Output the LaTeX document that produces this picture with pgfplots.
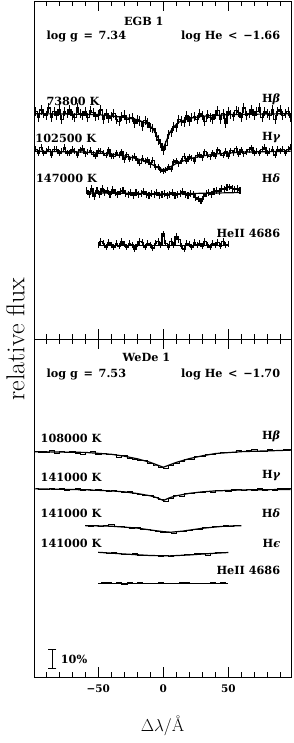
\documentclass[border=0pt]{standalone}
\usepackage{fontspec}
\usepackage{pgfplots}
\pgfplotsset{compat=1.18}
\newfontfamily\labfont{DejaVu Serif}
\pgfplotsset{
  panel/.style={
    width=257bp, height=338bp, scale only axis,
    xmin=-99.5, xmax=98.2, ymin=0, ymax=1.8,
    xtick={-50,0,50}, minor xtick={-90,-80,-70,-60,-40,-30,-20,-10,10,20,30,40,60,70,80,90},
    ytick=\empty, minor ytick={0.1,0.2,0.3,0.4,0.5,0.6,0.7,0.8,0.9,1.0,1.1,1.2,1.3,1.4,1.5,1.6,1.7},
    tick align=inside, xtick pos=both, ytick pos=both, xticklabel pos=lower,
    major tick length=10bp, minor tick length=5bp,
    axis line style={line width=0.9bp},
    every tick/.style={black, line width=0.8bp},
    clip=false,
  },
  obs/.style={black, line width=1.3bp, const plot mark mid, mark=none,
    error bars/.cd, y dir=both, y fixed=#1, error mark=none,
    error bar style={line width=1.1bp}},
  obsb/.style={black, line width=0.8bp, const plot mark mid, mark=none},
  model/.style={black, line width=1.2bp, mark=none},
}
\tikzset{lab/.style={font=\labfont\bfseries\fontsize{11.3}{13}\selectfont, inner sep=0pt}}
\newcommand\gr[1]{{\itshape #1}}
\begin{document}
\begin{tikzpicture}
\useasboundingbox (-34bp,-66bp) rectangle (260bp,677bp);
% ---------------- top panel: EGB 1
\begin{axis}[panel, at={(0,338bp)}, anchor=south west, xticklabels={}]
\addplot[obs=0.025] coordinates {(-98,1.21)(-96,1.18)(-94,1.22)(-92,1.20)(-90,1.19)(-88,1.23)(-86,1.18)(-84,1.21)(-82,1.19)(-80,1.22)(-78,1.17)(-76,1.21)(-74,1.20)(-72,1.22)(-70,1.19)(-68,1.18)(-66,1.23)(-64,1.20)(-62,1.19)(-60,1.21)(-58,1.178)(-56,1.217)(-54,1.205)(-52,1.184)(-50,1.192)(-48,1.22)(-46,1.169)(-44,1.198)(-42,1.176)(-40,1.185)(-38,1.202)(-36,1.17)(-34,1.16)(-32,1.185)(-30,1.192)(-28,1.17)(-26,1.175)(-24,1.18)(-22,1.15)(-20,1.17)(-18,1.16)(-16,1.135)(-14,1.165)(-12,1.15)(-10,1.125)(-8,1.12)(-6,1.10)(-4,1.06)(-2,1.04)(0,1.005)(2,1.03)(4,1.09)(6,1.10)(8,1.13)(10,1.125)(12,1.17)(14,1.16)(16,1.155)(18,1.19)(20,1.16)(22,1.178)(24,1.185)(26,1.17)(28,1.20)(30,1.19)(32,1.16)(34,1.197)(36,1.18)(38,1.172)(40,1.195)(42,1.216)(44,1.168)(46,1.199)(48,1.15)(50,1.212)(52,1.194)(54,1.185)(56,1.217)(58,1.208)(60,1.18)(62,1.23)(64,1.19)(66,1.20)(68,1.22)(70,1.19)(72,1.21)(74,1.23)(76,1.18)(78,1.21)(80,1.20)(82,1.19)(84,1.22)(86,1.17)(88,1.21)(90,1.22)(92,1.19)(94,1.20)(96,1.21)(98,1.18)};
\addplot[model] coordinates {(-99,1.200)(-50,1.195)(-30,1.18)(-20,1.168)(-12,1.145)(-8,1.12)(-4,1.07)(-1,1.02)(0,1.015)(2,1.05)(5,1.10)(8,1.13)(12,1.155)(20,1.175)(30,1.186)(50,1.195)(98,1.200)};
\addplot[obs=0.016] coordinates {(-98,1.01)(-96,0.99)(-94,1.02)(-92,0.99)(-90,1.00)(-88,1.01)(-86,0.98)(-84,1.01)(-82,1.01)(-80,0.99)(-78,1.00)(-76,1.02)(-74,0.99)(-72,0.99)(-70,1.01)(-68,0.999)(-66,0.978)(-64,1.007)(-62,1.016)(-60,0.986)(-58,0.995)(-56,1.004)(-54,0.983)(-52,0.972)(-50,1.002)(-48,1.00)(-46,0.989)(-44,0.978)(-42,1.006)(-40,0.975)(-38,0.973)(-36,0.991)(-34,0.979)(-32,0.997)(-30,0.955)(-28,0.982)(-26,0.959)(-24,0.966)(-22,0.973)(-20,0.95)(-18,0.936)(-16,0.962)(-14,0.948)(-12,0.953)(-10,0.928)(-8,0.952)(-6,0.915)(-4,0.918)(-2,0.90)(0,0.895)(2,0.90)(4,0.918)(6,0.905)(8,0.942)(10,0.948)(12,0.933)(14,0.948)(16,0.972)(18,0.946)(20,0.97)(22,0.963)(24,0.946)(26,0.979)(28,0.982)(30,0.965)(32,0.997)(34,0.979)(36,0.971)(38,0.993)(40,0.975)(42,1.006)(44,0.988)(46,0.979)(48,1.00)(50,0.972)(52,1.002)(54,0.993)(56,1.014)(58,0.985)(60,1.006)(62,0.986)(64,0.997)(66,1.008)(68,1.019)(70,0.99)(72,1.00)(74,0.99)(76,1.01)(78,1.02)(80,0.99)(82,1.00)(84,1.01)(86,0.98)(88,1.01)(90,1.00)(92,1.01)(94,0.99)(96,1.01)(98,1.02)};
\addplot[model] coordinates {(-99,1.0)(-60,0.995)(-40,0.985)(-30,0.975)(-20,0.96)(-10,0.935)(-5,0.915)(0,0.9)(5,0.915)(10,0.935)(20,0.96)(30,0.975)(40,0.985)(60,0.995)(98,1.0)};
\addplot[obs=0.018] coordinates {(-59,0.79)(-57,0.77)(-55,0.80)(-53,0.76)(-51,0.79)(-49,0.77)(-47,0.80)(-45,0.78)(-43,0.79)(-41,0.77)(-39,0.795)(-37,0.78)(-35,0.77)(-33,0.785)(-31,0.79)(-29,0.775)(-27,0.77)(-25,0.78)(-23,0.765)(-21,0.78)(-19,0.77)(-17,0.775)(-15,0.785)(-13,0.77)(-11,0.765)(-9,0.775)(-7,0.77)(-5,0.78)(-3,0.765)(-1,0.77)(1,0.775)(3,0.765)(5,0.77)(7,0.78)(9,0.765)(11,0.77)(13,0.775)(15,0.785)(17,0.77)(19,0.765)(21,0.775)(23,0.77)(25,0.755)(27,0.745)(29,0.735)(31,0.76)(33,0.775)(35,0.78)(37,0.77)(39,0.785)(41,0.79)(43,0.785)(45,0.80)(47,0.795)(49,0.805)(51,0.81)(53,0.80)(55,0.795)(57,0.80)(59,0.79)};
\addplot[model] coordinates {(-59,0.778)(-30,0.776)(0,0.772)(30,0.776)(59,0.78)};
\addplot[obs=0.017] coordinates {(-50,0.50)(-48,0.52)(-46,0.51)(-44,0.49)(-42,0.515)(-40,0.50)(-38,0.49)(-36,0.51)(-34,0.495)(-32,0.52)(-30,0.505)(-28,0.49)(-26,0.51)(-24,0.50)(-22,0.48)(-20,0.505)(-18,0.52)(-16,0.515)(-14,0.49)(-12,0.51)(-10,0.50)(-8,0.485)(-6,0.51)(-4,0.52)(-2,0.50)(0,0.56)(2,0.51)(4,0.49)(6,0.52)(8,0.50)(10,0.545)(12,0.53)(14,0.495)(16,0.48)(18,0.51)(20,0.505)(22,0.49)(24,0.515)(26,0.50)(28,0.51)(30,0.495)(32,0.52)(34,0.50)(36,0.49)(38,0.51)(40,0.50)(42,0.515)(44,0.495)(46,0.52)(48,0.50)(50,0.505)};
\addplot[model] coordinates {(-50,0.50)(50,0.50)};
\node[lab, anchor=center] at (axis cs:-15,1.69) {EGB 1};
\node[lab, anchor=west] at (axis cs:-90,1.61) {log g\enspace=\enspace7.34};
\node[lab, anchor=east] at (axis cs:90,1.61) {log He\enspace<\enspace−1.66};
\node[lab, anchor=west] at (axis cs:-90,1.267) {73800 K};
\node[lab, anchor=east] at (axis cs:90,1.278) {H\gr{β}};
\node[lab, anchor=west] at (axis cs:-98.5,1.07) {102500 K};
\node[lab, anchor=east] at (axis cs:90,1.07) {H\gr{γ}};
\node[lab, anchor=west] at (axis cs:-98,0.857) {147000 K};
\node[lab, anchor=east] at (axis cs:90,0.857) {H\gr{δ}};
\node[lab, anchor=east] at (axis cs:90,0.564) {HeII 4686};
\end{axis}
% ---------------- bottom panel: WeDe 1
\begin{axis}[panel, at={(0,0)}, anchor=south west,
  xticklabels={−50,0,50},
  xticklabel style={font=\labfont\bfseries\fontsize{10.5}{12}\selectfont, yshift=-4bp},
  xlabel={$\Delta\lambda/$\AA},
  xlabel style={font=\fontsize{18}{20}\selectfont, at={(axis description cs:0.5,0)}, anchor=center, yshift=-49bp},
  ylabel={relative flux},
  ylabel style={font=\fontsize{26}{30}\selectfont, at={(axis description cs:-0.072,1)}, anchor=center},
]
\addplot[obsb] coordinates {(-98,1.200)(-94,1.196)(-90,1.198)(-86,1.206)(-82,1.190)(-78,1.199)(-74,1.194)(-70,1.203)(-66,1.193)(-62,1.188)(-58,1.196)(-54,1.199)(-50,1.184)(-46,1.191)(-42,1.183)(-38,1.188)(-34,1.172)(-30,1.181)(-26,1.166)(-22,1.161)(-18,1.156)(-14,1.151)(-10,1.138)(-6,1.129)(-2,1.116)(2,1.112)(6,1.128)(10,1.137)(14,1.147)(18,1.161)(22,1.160)(26,1.173)(30,1.175)(34,1.188)(38,1.186)(42,1.191)(46,1.197)(50,1.196)(54,1.194)(58,1.206)(62,1.199)(66,1.207)(70,1.210)(74,1.203)(78,1.200)(82,1.214)(86,1.205)(90,1.209)(94,1.214)(98,1.210)};
\addplot[model] coordinates {(-99,1.200)(-60,1.196)(-40,1.186)(-30,1.176)(-20,1.162)(-10,1.143)(-5,1.130)(0,1.117)(5,1.130)(10,1.143)(20,1.163)(30,1.178)(40,1.190)(60,1.200)(98,1.208)};
\addplot[obsb] coordinates {(-98,1.006)(-94,1.001)(-90,1.000)(-86,1.005)(-82,0.997)(-78,1.004)(-74,0.995)(-70,0.999)(-66,1.003)(-62,0.994)(-58,0.998)(-54,0.993)(-50,0.997)(-46,0.992)(-42,0.990)(-38,0.995)(-34,0.987)(-30,0.984)(-26,0.988)(-22,0.977)(-18,0.975)(-14,0.969)(-10,0.965)(-6,0.957)(-2,0.945)(2,0.935)(6,0.952)(10,0.967)(14,0.964)(18,0.976)(22,0.977)(26,0.985)(30,0.981)(34,0.991)(38,0.985)(42,0.993)(46,0.995)(50,0.989)(54,0.998)(58,0.998)(62,0.992)(66,1.001)(70,0.996)(74,1.005)(78,0.995)(82,1.000)(86,0.994)(90,1.003)(94,1.003)(98,1.007)};
\addplot[model] coordinates {(-99,1.002)(-60,0.997)(-40,0.991)(-30,0.986)(-20,0.977)(-10,0.965)(-5,0.955)(0,0.94)(5,0.955)(10,0.965)(20,0.978)(30,0.986)(40,0.991)(60,0.996)(98,0.999)};
\addplot[obsb] coordinates {(-60,0.806)(-56,0.804)(-52,0.809)(-48,0.803)(-44,0.805)(-40,0.810)(-36,0.800)(-32,0.802)(-28,0.797)(-24,0.794)(-20,0.796)(-16,0.787)(-12,0.784)(-8,0.779)(-4,0.776)(0,0.771)(4,0.770)(8,0.765)(12,0.773)(16,0.776)(20,0.781)(24,0.786)(28,0.788)(32,0.795)(36,0.798)(40,0.803)(44,0.800)(48,0.806)(52,0.804)(56,0.809)(60,0.806)};
\addplot[model] coordinates {(-60,0.806)(-40,0.803)(-20,0.793)(-10,0.783)(0,0.774)(6,0.771)(15,0.777)(30,0.792)(45,0.802)(60,0.806)};
\addplot[obsb] coordinates {(-50,0.665)(-46,0.663)(-42,0.660)(-38,0.663)(-34,0.656)(-30,0.652)(-26,0.655)(-22,0.659)(-18,0.650)(-14,0.648)(-10,0.645)(-6,0.647)(-2,0.643)(2,0.646)(6,0.640)(10,0.645)(14,0.649)(18,0.652)(22,0.651)(26,0.656)(30,0.657)(34,0.648)(38,0.660)(42,0.663)(46,0.665)(50,0.664)};
\addplot[model] coordinates {(-50,0.664)(-30,0.655)(-10,0.647)(5,0.645)(20,0.650)(35,0.657)(50,0.663)};
\addplot[obsb] coordinates {(-50,0.500)(-46,0.504)(-42,0.503)(-38,0.499)(-34,0.505)(-30,0.493)(-26,0.502)(-22,0.500)(-18,0.503)(-14,0.496)(-10,0.499)(-6,0.497)(-2,0.502)(2,0.500)(6,0.497)(10,0.501)(14,0.505)(18,0.503)(22,0.498)(26,0.500)(30,0.496)(34,0.499)(38,0.503)(42,0.499)(46,0.502)(50,0.500)};
\addplot[model] coordinates {(-50,0.500)(50,0.500)};
% 10% scale bar
\addplot[black, line width=0.8bp, mark=-, mark size=4bp, mark options={line width=0.8bp}] coordinates {(-85.4,0.045)(-85.4,0.145)};
\node[lab, anchor=west] at (axis cs:-79,0.092) {10\%};
\node[lab, anchor=center] at (axis cs:-13,1.70) {WeDe 1};
\node[lab, anchor=west] at (axis cs:-90,1.61) {log g\enspace=\enspace7.53};
\node[lab, anchor=east] at (axis cs:90,1.61) {log He\enspace<\enspace−1.70};
\node[lab, anchor=west] at (axis cs:-94.5,1.273) {108000 K};
\node[lab, anchor=east] at (axis cs:90,1.283) {H\gr{β}};
\node[lab, anchor=west] at (axis cs:-94.5,1.065) {141000 K};
\node[lab, anchor=east] at (axis cs:90,1.07) {H\gr{γ}};
\node[lab, anchor=west] at (axis cs:-94.5,0.873) {141000 K};
\node[lab, anchor=east] at (axis cs:90,0.873) {H\gr{δ}};
\node[lab, anchor=west] at (axis cs:-94.5,0.713) {141000 K};
\node[lab, anchor=east] at (axis cs:90,0.713) {H\gr{ϵ}};
\node[lab, anchor=east] at (axis cs:90,0.57) {HeII 4686};
\end{axis}
\end{tikzpicture}
\end{document}
